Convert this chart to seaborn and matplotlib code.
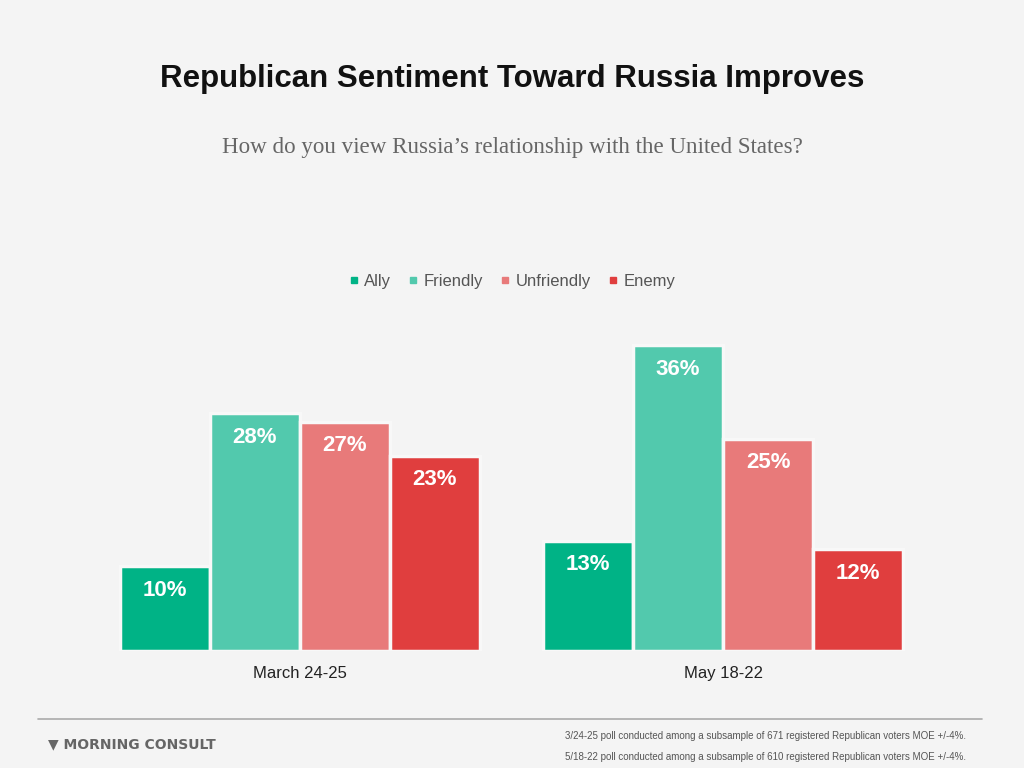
import pandas as pd
import matplotlib.pyplot as plt
import seaborn as sns
from matplotlib.lines import Line2D

periods = ["March 24-25", "May 18-22"]
views = ["Ally", "Friendly", "Unfriendly", "Enemy"]
march = [10, 28, 27, 23]
may = [13, 36, 25, 12]
colors = ["#00b386", "#52c9ad", "#e87a7a", "#e03e3e"]

rows = []
for v, a, b in zip(views, march, may):
    rows.append({"period": periods[0], "view": v, "pct": a})
    rows.append({"period": periods[1], "view": v, "pct": b})
df = pd.DataFrame(rows)

sns.set_theme(style="white")
plt.rcParams["font.family"] = ["Liberation Sans", "DejaVu Sans"]

bg = "#f4f4f4"
fig = plt.figure(figsize=(10.24, 7.68), dpi=100, facecolor=bg)
ax = fig.add_axes([46 / 1024, 117 / 768, 931 / 1024, 340 / 768], facecolor=bg)

sns.barplot(data=df, x="period", y="pct", hue="view", order=periods, hue_order=views,
            palette=colors, saturation=1, width=0.85, edgecolor="#f8f8f8", linewidth=2.5,
            ax=ax, legend=False)

ax.set_xlim(-0.6, 1.6)
ax.set_ylim(0, 40)
ax.set_yticks([])
ax.set_xlabel("")
ax.set_ylabel("")
ax.tick_params(axis="x", length=0, labelsize=12, colors="#222222", pad=11)
sns.despine(ax=ax, left=True, bottom=True)

# percent labels inside the bars
for cont in ax.containers:
    for bar in cont:
        h = bar.get_height()
        ax.annotate(f"{h:.0f}%", (bar.get_x() + bar.get_width() / 2, h),
                    xytext=(0, -17.5), textcoords="offset points",
                    ha="center", va="center", color="white",
                    fontsize=16, fontweight="bold")

# legend
handles = [Line2D([], [], marker="s", linestyle="", markersize=4.8, color=c) for c in colors]
fig.legend(handles, views, loc="center", bbox_to_anchor=(0.5, 1 - 281 / 768), ncol=4,
           frameon=False, fontsize=12, handlelength=0.6, handletextpad=0.3, columnspacing=1.05,
           labelcolor="#555555")

fig.text(0.5, 1 - 79 / 768, "Republican Sentiment Toward Russia Improves",
         ha="center", va="center", fontsize=22.5, fontweight="bold", color="#111111")
fig.text(0.5, 1 - 148 / 768, "How do you view Russia\u2019s relationship with the United States?",
         ha="center", va="center", fontsize=16.6, color="#666666",
         family=["Liberation Serif", "DejaVu Serif"])

# footer
fig.add_artist(Line2D([38 / 1024, 982 / 1024], [1 - 719 / 768] * 2, color="#aaaaaa", lw=1.2))
fig.text(48 / 1024, 1 - 744 / 768, "\u25bc MORNING CONSULT", ha="left", va="center",
         fontsize=10, fontweight="bold", color="#666666", family="DejaVu Sans")
fig.text(565 / 1024, 1 - 736 / 768,
         "3/24-25 poll conducted among a subsample of 671 registered Republican voters MOE +/-4%.",
         ha="left", va="center", fontsize=7, color="#555555")
fig.text(565 / 1024, 1 - 757 / 768,
         "5/18-22 poll conducted among a subsample of 610 registered Republican voters MOE +/-4%.",
         ha="left", va="center", fontsize=7, color="#555555")

fig.savefig("out.png", dpi=100, facecolor=bg)
